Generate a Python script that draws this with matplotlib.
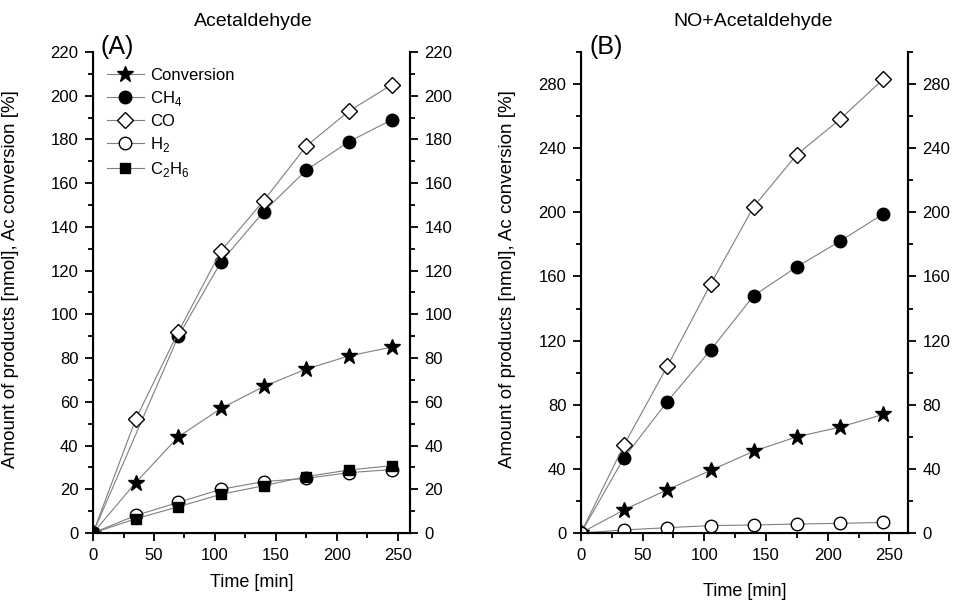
import matplotlib.pyplot as plt
from matplotlib.ticker import MultipleLocator

plt.rcParams['font.family'] = ['Liberation Sans', 'DejaVu Sans']
plt.rcParams['mathtext.fontset'] = 'custom'
plt.rcParams['mathtext.rm'] = 'Liberation Sans'

# time axis shared by most series
time = [0, 35, 70, 105, 140, 175, 210, 245]

# (A) Acetaldehyde  (CH4 has no point at 35 min)
a_conv = [0, 23, 44, 57, 67, 75, 81, 85]
a_ch4_time = [0, 70, 105, 140, 175, 210, 245]
a_ch4 = [0, 90, 124, 147, 166, 179, 189]
a_co = [0, 52, 92, 129, 152, 177, 193, 205]
a_h2 = [0, 8, 14, 20, 23.5, 25, 27.6, 29]
a_c2h6 = [0, 6.5, 12, 17.7, 21.6, 25.8, 28.8, 30.8]

# (B) NO + Acetaldehyde
b_conv = [0, 14.5, 27, 39, 51, 60, 66, 74]
b_ch4 = [0, 47, 82, 114, 148, 166, 182, 199]
b_co = [0, 55, 104, 155, 203.5, 236, 258, 283]
b_h2 = [0, 1.9, 3.3, 4.6, 5, 5.6, 6, 6.6]

line_kw = dict(color='#7f7f7f', lw=0.8, markeredgecolor='black', markeredgewidth=1.0)
ylab = 'Amount of products [nmol], Ac conversion [%]'

fig = plt.figure(figsize=(9.56, 6.0), dpi=100)


def style_axes(ax, xmax, ymax, ymajor, yminor, xlabelpad):
    ax.set_xlim(0, xmax)
    ax.set_ylim(0, ymax)
    ax.xaxis.set_major_locator(MultipleLocator(50))
    ax.xaxis.set_minor_locator(MultipleLocator(25))
    ax.yaxis.set_major_locator(MultipleLocator(ymajor))
    ax.yaxis.set_minor_locator(MultipleLocator(yminor))
    ax.spines['top'].set_visible(False)
    for s in ['left', 'bottom', 'right']:
        ax.spines[s].set_linewidth(1.5)
    ax.tick_params(which='major', direction='out', length=5.5, width=1.3, labelsize=12, pad=5)
    ax.tick_params(which='minor', direction='out', length=3.5, width=1.3)
    ax.set_xlabel('Time [min]', fontsize=13, labelpad=xlabelpad)
    ax.set_ylabel(ylab, fontsize=13.5)

    tw = ax.twinx()
    tw.set_ylim(0, ymax)
    tw.yaxis.set_major_locator(MultipleLocator(ymajor))
    tw.yaxis.set_minor_locator(MultipleLocator(yminor))
    tw.spines['top'].set_visible(False)
    tw.spines['right'].set_linewidth(1.5)
    tw.tick_params(which='major', direction='out', length=5.5, width=1.3, labelsize=12, pad=5)
    tw.tick_params(which='minor', direction='out', length=3.5, width=1.3)


# panel A
axA = fig.add_axes([0.0973, 0.1117, 0.3316, 0.8017])
axA.plot(time, a_conv, marker='*', ms=12, mfc='black', label='Conversion', **line_kw)
axA.plot(a_ch4_time, a_ch4, marker='o', ms=9, mfc='black', label=r'CH$_4$', **line_kw)
axA.plot(time, a_co, marker='D', ms=8, mfc='white', label='CO', **line_kw)
axA.plot(time, a_h2, marker='o', ms=9, mfc='white', label=r'H$_2$', **line_kw)
axA.plot(time, a_c2h6, marker='s', ms=7.5, mfc='black', label=r'C$_2$H$_6$', **line_kw)
style_axes(axA, 260, 220, 20, 10, 8)
axA.yaxis.set_label_coords(-0.232, 0.528)
axA.legend(loc='upper left', bbox_to_anchor=(0.044, 0.967), frameon=False, fontsize=12,
           handlelength=2.2, handletextpad=0.4, labelspacing=0.36, borderaxespad=0, borderpad=0)
axA.text(0.025, 1.01, '(A)', transform=axA.transAxes, fontsize=18, va='center', ha='left')
fig.text(253 / 956, 1 - 21 / 600, 'Acetaldehyde', fontsize=14, ha='center', va='center')

# panel B
axB = fig.add_axes([0.6077, 0.1117, 0.342, 0.8017])
axB.plot(time, b_conv, marker='*', ms=12, mfc='black', **line_kw)
axB.plot(time, b_ch4, marker='o', ms=9, mfc='black', **line_kw)
axB.plot(time, b_co, marker='D', ms=8, mfc='white', **line_kw)
axB.plot(time, b_h2, marker='o', ms=9, mfc='white', **line_kw)
style_axes(axB, 265, 300, 40, 20, 15)
axB.yaxis.set_label_coords(-0.199, 0.528)
axB.text(0.025, 1.01, '(B)', transform=axB.transAxes, fontsize=18, va='center', ha='left')
fig.text(753 / 956, 1 - 22 / 600, 'NO+Acetaldehyde', fontsize=14, ha='center', va='center')

fig.savefig('out.png', dpi=100)
